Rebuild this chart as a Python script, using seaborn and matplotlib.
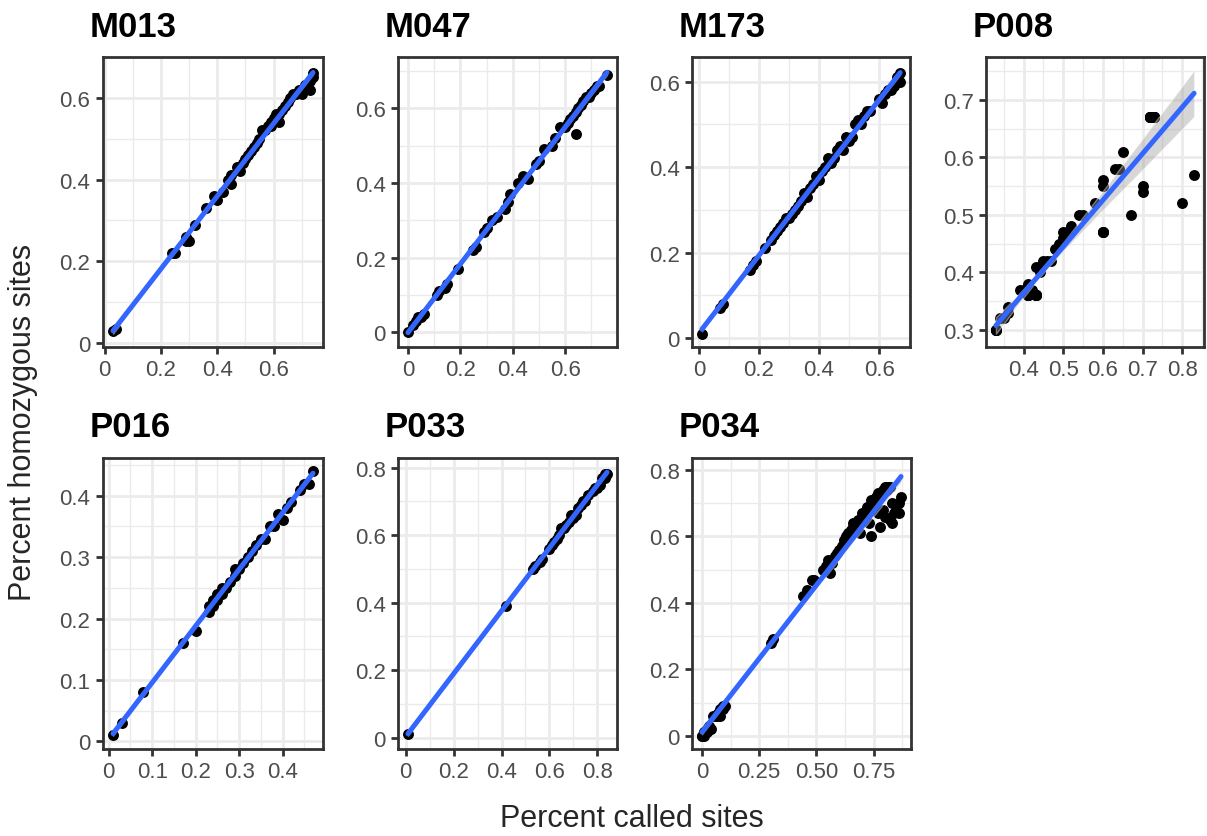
import numpy as np
import pandas as pd
import matplotlib
matplotlib.use("Agg")
import matplotlib.pyplot as plt
import seaborn as sns
from matplotlib.ticker import AutoMinorLocator, FixedLocator, FixedFormatter

# --- DATA (overlapping points are listed once per sample) ---
samples = ["M013", "M047", "M173", "P008", "P016", "P033", "P034"]

m013_called = [0.03, 0.04, 0.24, 0.25, 0.29, 0.29, 0.30, 0.32, 0.36, 0.39, 0.40, 0.42, 0.44, 0.45,
               0.45, 0.47, 0.48, 0.49, 0.50, 0.51, 0.52, 0.53, 0.54, 0.55, 0.56, 0.57, 0.58, 0.59,
               0.60, 0.61, 0.62, 0.63, 0.64, 0.65, 0.66, 0.67, 0.68, 0.69, 0.70, 0.71, 0.72, 0.73,
               0.74, 0.74, 0.73, 0.70, 0.62, 0.59]
m013_homo = [0.03, 0.035, 0.22, 0.22, 0.26, 0.25, 0.25, 0.29, 0.33, 0.36, 0.35, 0.37, 0.40, 0.41,
             0.39, 0.43, 0.42, 0.44, 0.45, 0.46, 0.47, 0.48, 0.49, 0.50, 0.52, 0.52, 0.53, 0.54,
             0.55, 0.56, 0.54, 0.57, 0.58, 0.59, 0.60, 0.61, 0.61, 0.62, 0.62, 0.63, 0.63, 0.64,
             0.66, 0.65, 0.62, 0.61, 0.56, 0.53]

m047_called = [0.00, 0.02, 0.03, 0.04, 0.05, 0.06, 0.11, 0.12, 0.14, 0.15, 0.19, 0.25, 0.26, 0.29,
               0.30, 0.32, 0.34, 0.37, 0.38, 0.39, 0.42, 0.44, 0.46, 0.49, 0.50, 0.52, 0.55, 0.56,
               0.58, 0.60, 0.61, 0.62, 0.63, 0.64, 0.65, 0.66, 0.67, 0.68, 0.69, 0.70, 0.71, 0.72,
               0.73, 0.76, 0.64]
m047_homo = [0.00, 0.02, 0.03, 0.04, 0.04, 0.05, 0.10, 0.11, 0.12, 0.13, 0.17, 0.22, 0.23, 0.27,
             0.28, 0.30, 0.31, 0.33, 0.35, 0.37, 0.40, 0.42, 0.41, 0.45, 0.46, 0.49, 0.50, 0.52,
             0.55, 0.55, 0.56, 0.57, 0.58, 0.59, 0.60, 0.61, 0.62, 0.63, 0.63, 0.64, 0.65, 0.66,
             0.66, 0.69, 0.53]

m173_called = [0.01, 0.07, 0.08, 0.17, 0.18, 0.19, 0.22, 0.24, 0.25, 0.26, 0.27, 0.28, 0.29, 0.30,
               0.31, 0.32, 0.33, 0.34, 0.35, 0.36, 0.37, 0.38, 0.39, 0.40, 0.41, 0.42, 0.43, 0.44,
               0.45, 0.46, 0.47, 0.48, 0.49, 0.50, 0.51, 0.52, 0.53, 0.54, 0.55, 0.56, 0.57, 0.60,
               0.61, 0.62, 0.63, 0.64, 0.65, 0.66, 0.67, 0.67]
m173_homo = [0.01, 0.07, 0.08, 0.16, 0.17, 0.18, 0.21, 0.23, 0.24, 0.25, 0.26, 0.27, 0.28, 0.28,
             0.29, 0.30, 0.31, 0.32, 0.34, 0.33, 0.35, 0.36, 0.38, 0.37, 0.39, 0.40, 0.42, 0.41,
             0.42, 0.44, 0.45, 0.44, 0.47, 0.46, 0.47, 0.50, 0.51, 0.50, 0.52, 0.53, 0.53, 0.56,
             0.55, 0.57, 0.58, 0.58, 0.59, 0.61, 0.62, 0.60]

p008_called = [0.33, 0.34, 0.35, 0.36, 0.36, 0.39, 0.40, 0.41, 0.41, 0.42, 0.43, 0.43, 0.44, 0.44,
               0.45, 0.46, 0.47, 0.48, 0.49, 0.50, 0.50, 0.51, 0.52, 0.54, 0.55, 0.58, 0.60, 0.60,
               0.60, 0.63, 0.64, 0.65, 0.67, 0.70, 0.70, 0.72, 0.73, 0.80, 0.83,
               0.72, 0.72, 0.72, 0.72, 0.73, 0.73, 0.73, 0.73, 0.72, 0.73,
               0.41, 0.41, 0.41, 0.43, 0.43, 0.43, 0.41, 0.43,
               0.33, 0.33, 0.33, 0.60, 0.60]
p008_homo = [0.30, 0.32, 0.32, 0.34, 0.33, 0.37, 0.37, 0.38, 0.36, 0.37, 0.36, 0.41, 0.40, 0.41,
             0.42, 0.42, 0.42, 0.44, 0.45, 0.46, 0.47, 0.47, 0.48, 0.50, 0.50, 0.52, 0.56, 0.55,
             0.47, 0.58, 0.58, 0.61, 0.50, 0.55, 0.54, 0.67, 0.67, 0.52, 0.57,
             0.67, 0.67, 0.67, 0.67, 0.67, 0.67, 0.67, 0.67, 0.67, 0.67,
             0.36, 0.36, 0.36, 0.36, 0.36, 0.36, 0.36, 0.36,
             0.30, 0.30, 0.30, 0.47, 0.47]

p016_called = [0.01, 0.03, 0.08, 0.17, 0.20, 0.23, 0.23, 0.24, 0.24, 0.25, 0.25, 0.26, 0.26, 0.27,
               0.28, 0.29, 0.29, 0.30, 0.31, 0.32, 0.33, 0.34, 0.35, 0.36, 0.37, 0.38, 0.39, 0.40,
               0.41, 0.42, 0.44, 0.45, 0.46, 0.47]
p016_homo = [0.01, 0.03, 0.08, 0.16, 0.18, 0.22, 0.21, 0.23, 0.22, 0.24, 0.23, 0.25, 0.24, 0.25,
             0.26, 0.28, 0.27, 0.28, 0.29, 0.30, 0.31, 0.32, 0.33, 0.33, 0.35, 0.35, 0.37, 0.36,
             0.38, 0.39, 0.41, 0.42, 0.42, 0.44]

p033_called = [0.01, 0.42, 0.53, 0.54, 0.56, 0.57, 0.60, 0.61, 0.62, 0.63, 0.64, 0.65, 0.66, 0.67,
               0.68, 0.69, 0.70, 0.71, 0.72, 0.73, 0.74, 0.75, 0.76, 0.78, 0.79, 0.80, 0.81, 0.82,
               0.83, 0.84, 0.83]
p033_homo = [0.01, 0.39, 0.50, 0.51, 0.52, 0.53, 0.56, 0.57, 0.58, 0.59, 0.60, 0.62, 0.62, 0.63,
             0.64, 0.66, 0.65, 0.66, 0.68, 0.69, 0.70, 0.70, 0.72, 0.73, 0.74, 0.74, 0.75, 0.77,
             0.78, 0.78, 0.77]

p034_called = [0.00, 0.01, 0.02, 0.03, 0.04, 0.05, 0.06, 0.07, 0.08, 0.08, 0.09, 0.10, 0.30, 0.31,
               0.44, 0.46, 0.48, 0.49, 0.53, 0.54, 0.55, 0.56, 0.57, 0.58, 0.59, 0.60, 0.61, 0.63,
               0.64, 0.65, 0.66, 0.67, 0.68, 0.69, 0.70, 0.71, 0.72, 0.73, 0.74, 0.74, 0.75, 0.76,
               0.77, 0.78, 0.78, 0.79, 0.80, 0.80, 0.81, 0.82, 0.82, 0.83, 0.84, 0.85, 0.86, 0.86,
               0.87, 0.83,
               0.00, 0.01, 0.01, 0.02, 0.03, 0.07, 0.09, 0.62, 0.66, 0.68, 0.70, 0.72, 0.75, 0.77,
               0.79, 0.80, 0.81, 0.82, 0.79, 0.81]
p034_homo = [0.00, 0.01, 0.02, 0.03, 0.02, 0.06, 0.06, 0.07, 0.06, 0.08, 0.08, 0.09, 0.28, 0.29,
             0.42, 0.44, 0.47, 0.47, 0.50, 0.51, 0.53, 0.49, 0.52, 0.54, 0.55, 0.56, 0.57, 0.60,
             0.61, 0.62, 0.64, 0.63, 0.65, 0.61, 0.66, 0.67, 0.68, 0.64, 0.60, 0.71, 0.70, 0.72,
             0.67, 0.63, 0.73, 0.68, 0.74, 0.66, 0.75, 0.65, 0.75, 0.70, 0.67, 0.68, 0.70, 0.67,
             0.72, 0.64,
             0.00, 0.00, 0.01, 0.01, 0.02, 0.06, 0.09, 0.59, 0.63, 0.64, 0.67, 0.69, 0.71, 0.73,
             0.74, 0.75, 0.74, 0.75, 0.73, 0.75]

called = [m013_called, m047_called, m173_called, p008_called, p016_called, p033_called, p034_called]
homo = [m013_homo, m047_homo, m173_homo, p008_homo, p016_homo, p033_homo, p034_homo]

x_ticks = [[0, 0.2, 0.4, 0.6], [0, 0.2, 0.4, 0.6], [0, 0.2, 0.4, 0.6],
           [0.4, 0.5, 0.6, 0.7, 0.8], [0, 0.1, 0.2, 0.3, 0.4],
           [0, 0.2, 0.4, 0.6, 0.8], [0, 0.25, 0.5, 0.75]]
x_labels = [["0", "0.2", "0.4", "0.6"], ["0", "0.2", "0.4", "0.6"], ["0", "0.2", "0.4", "0.6"],
            ["0.4", "0.5", "0.6", "0.7", "0.8"], ["0", "0.1", "0.2", "0.3", "0.4"],
            ["0", "0.2", "0.4", "0.6", "0.8"], ["0", "0.25", "0.50", "0.75"]]
y_ticks = [[0, 0.2, 0.4, 0.6], [0, 0.2, 0.4, 0.6], [0, 0.2, 0.4, 0.6],
           [0.3, 0.4, 0.5, 0.6, 0.7], [0, 0.1, 0.2, 0.3, 0.4],
           [0, 0.2, 0.4, 0.6, 0.8], [0, 0.2, 0.4, 0.6, 0.8]]
y_labels = [["0", "0.2", "0.4", "0.6"], ["0", "0.2", "0.4", "0.6"], ["0", "0.2", "0.4", "0.6"],
            ["0.3", "0.4", "0.5", "0.6", "0.7"], ["0", "0.1", "0.2", "0.3", "0.4"],
            ["0", "0.2", "0.4", "0.6", "0.8"], ["0", "0.2", "0.4", "0.6", "0.8"]]

# --- LAYOUT (pixel boxes of each panel: left, top, right, bottom) ---
W, H = 1207, 837
panel_px = [(103, 58, 323, 348), (398, 58, 617, 348), (692, 58, 910, 348), (986, 58, 1204, 348),
            (103, 459, 323, 750), (398, 459, 617, 750), (692, 459, 911, 750)]
title_base = [37, 37, 37, 37, 437, 437, 437]

sns.set_theme(style="white")
plt.rcParams['font.family'] = ['Liberation Sans', 'DejaVu Sans']

fig = plt.figure(figsize=(W / 100, H / 100), dpi=100)

for i, name in enumerate(samples):
    l, t, r, b = panel_px[i]
    ax = fig.add_axes([l / W, 1 - b / H, (r - l) / W, (b - t) / H])
    df = pd.DataFrame({"called": called[i], "homo": homo[i]})

    sns.scatterplot(data=df, x="called", y="homo", ax=ax, color="black",
                    s=62, linewidth=0, zorder=3)
    sns.regplot(data=df, x="called", y="homo", ax=ax, scatter=False, seed=0,
                color="#3366FF", line_kws={"lw": 3.6, "zorder": 5})
    # ggplot style grey ribbon
    for coll in ax.collections[1:]:
        coll.set_facecolor("#999999")
        coll.set_alpha(0.4)
        coll.set_zorder(4)

    ax.set_xlabel("")
    ax.set_ylabel("")
    ax.xaxis.set_major_locator(FixedLocator(x_ticks[i]))
    ax.xaxis.set_major_formatter(FixedFormatter(x_labels[i]))
    ax.yaxis.set_major_locator(FixedLocator(y_ticks[i]))
    ax.yaxis.set_major_formatter(FixedFormatter(y_labels[i]))
    ax.xaxis.set_minor_locator(AutoMinorLocator(2))
    ax.yaxis.set_minor_locator(AutoMinorLocator(2))

    ax.set_facecolor("white")
    ax.grid(True, which="major", color="#EBEBEB", lw=2.0, zorder=0)
    ax.grid(True, which="minor", color="#EBEBEB", lw=1.0, zorder=0)
    ax.set_axisbelow(True)
    for sp in ax.spines.values():
        sp.set_color("#333333")
        sp.set_linewidth(2.0)
    ax.tick_params(which="major", direction="out", length=5, width=2.0, color="#333333",
                   labelsize=16, labelcolor="#4D4D4D", pad=4,
                   bottom=True, left=True)
    ax.tick_params(which="minor", length=0)

    fig.text((l - 13) / W, 1 - title_base[i] / H, name, fontsize=25, fontweight="bold",
             ha="left", va="baseline", color="black")

fig.text(632 / W, 1 - 819 / H, "Percent called sites", fontsize=22, ha="center", va="center")
fig.text(23 / W, 1 - 422 / H, "Percent homozygous sites", fontsize=22, ha="center",
         va="center", rotation=90)

fig.savefig("out.png", dpi=100, facecolor="white")
